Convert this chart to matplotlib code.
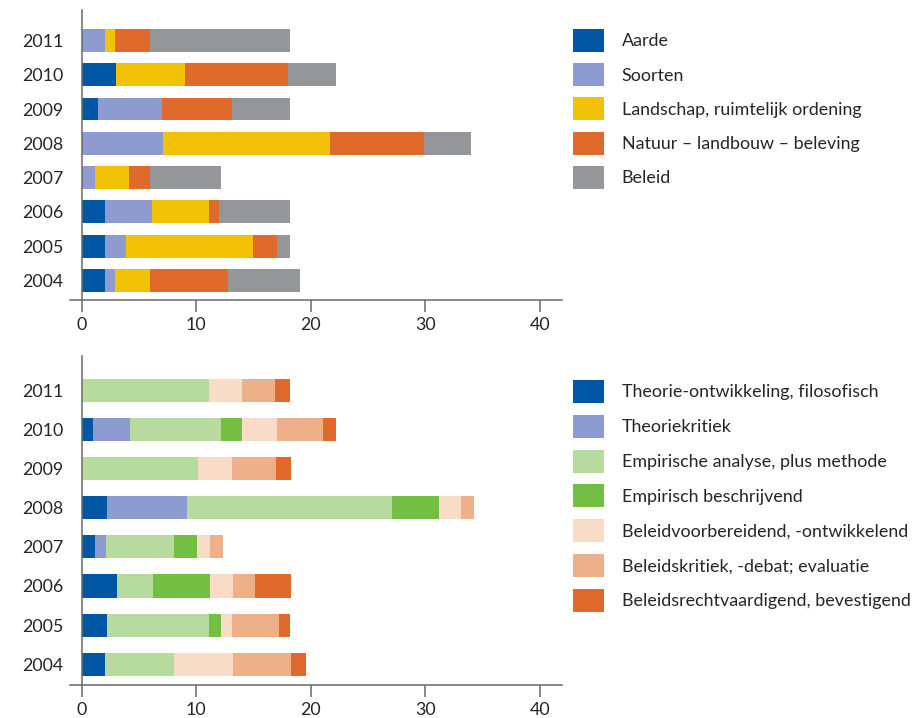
import numpy as np
import matplotlib.pyplot as plt
from matplotlib.patches import Rectangle

plt.rcParams['font.family'] = ['Lato', 'DejaVu Sans']

years = ['2004', '2005', '2006', '2007', '2008', '2009', '2010', '2011']

# top panel: onderwerp
top_labels = ['Aarde', 'Soorten', 'Landschap, ruimtelijk ordening',
              'Natuur \u2013 landbouw \u2013 beleving', 'Beleid']
top_colors = ['#0256a6', '#8d9bd0', '#f2c208', '#df6a2c', '#959699']
aarde = [2.0, 2.0, 2.0, 0.0, 0.0, 1.4, 3.0, 0.0]
soorten = [0.9, 1.9, 4.1, 1.2, 7.1, 5.6, 0.0, 2.0]
landschap = [3.1, 11.1, 5.0, 2.9, 14.6, 0.0, 6.0, 0.9]
natuur = [6.8, 2.1, 0.9, 1.9, 8.2, 6.1, 9.0, 3.1]
beleid = [6.3, 1.1, 6.2, 6.2, 4.1, 5.1, 4.2, 12.2]
top_series = [aarde, soorten, landschap, natuur, beleid]

# bottom panel: type onderzoek
bot_labels = ['Theorie-ontwikkeling, filosofisch', 'Theoriekritiek',
              'Empirische analyse, plus methode', 'Empirisch beschrijvend',
              'Beleidvoorbereidend, -ontwikkelend', 'Beleidskritiek, -debat; evaluatie',
              'Beleidsrechtvaardigend, bevestigend']
bot_colors = ['#0256a6', '#8d9bd0', '#b7db9e', '#72bf44', '#f8dcc8', '#eeb088', '#df6a2c']
theorie = [2.0, 2.2, 3.1, 1.2, 2.2, 0.0, 1.0, 0.0]
theoriekritiek = [0.0, 0.0, 0.0, 0.9, 7.0, 0.0, 3.2, 0.0]
emp_analyse = [6.1, 8.9, 3.1, 6.0, 17.9, 10.2, 8.0, 11.1]
emp_beschr = [0.0, 1.1, 5.0, 2.0, 4.1, 0.0, 1.8, 0.0]
voorbereidend = [5.1, 0.9, 2.0, 1.1, 1.9, 2.9, 3.1, 2.9]
beleidskritiek = [5.1, 4.1, 1.9, 1.1, 1.2, 3.9, 4.0, 2.9]
rechtvaardigend = [1.3, 1.0, 3.2, 0.0, 0.0, 1.3, 1.1, 1.3]
bot_series = [theorie, theoriekritiek, emp_analyse, emp_beschr,
              voorbereidend, beleidskritiek, rechtvaardigend]

W, H = 917, 718
fig = plt.figure(figsize=(W / 100, H / 100), dpi=100)

text_color = '#262626'
axis_color = '#6a6a6a'
fs = 12.9


def fig_rect(left, top, right, bottom):
    return [left / W, 1 - bottom / H, (right - left) / W, (bottom - top) / H]


def stacked(ax, series, colors, height, ylim):
    y = np.arange(len(years))
    left = np.zeros(len(years))
    for vals, c in zip(series, colors):
        ax.barh(y, vals, left=left, height=height, color=c, linewidth=0)
        left += np.array(vals)
    ax.set_xlim(-1.02, 41.95)
    ax.set_ylim(*ylim)
    ax.set_yticks(y)
    ax.set_yticklabels(years)
    ax.set_xticks([0, 10, 20, 30, 40])
    for s in ['top', 'right']:
        ax.spines[s].set_visible(False)
    ax.spines['left'].set_position(('data', 0))
    for s in ['left', 'bottom']:
        ax.spines[s].set_color(axis_color)
        ax.spines[s].set_linewidth(1.1)
    ax.tick_params(axis='y', length=0, pad=13, labelsize=fs, labelcolor=text_color)
    ax.tick_params(axis='x', length=8.6, width=1.1, color=axis_color, pad=4,
                   labelsize=fs, labelcolor=text_color)
    ax.set_facecolor('none')


ax1 = fig.add_axes(fig_rect(70, 10, 562, 299.7))
stacked(ax1, top_series, top_colors, 0.67, (-0.566, 7.89))

ax2 = fig.add_axes(fig_rect(70, 356, 562, 684.7))
stacked(ax2, bot_series, bot_colors, 0.59, (-0.524, 7.88))

# legends, drawn in pixel space
lax = fig.add_axes([0, 0, 1, 1])
lax.set_xlim(0, W)
lax.set_ylim(H, 0)
lax.axis('off')
lax.set_zorder(-1)


def legend(labels, colors, y0, step):
    for i, (lab, c) in enumerate(zip(labels, colors)):
        yc = y0 + step * i
        lax.add_patch(Rectangle((573, yc - 11.5), 30.7, 23, color=c, linewidth=0))
        lax.text(621.7, yc + 1, lab, va='center', ha='left', fontsize=fs, color=text_color)


legend(top_labels, top_colors, 40.5, 34.2)
legend(bot_labels, bot_colors, 391.5, 34.8)

fig.savefig('out.png', dpi=100)
